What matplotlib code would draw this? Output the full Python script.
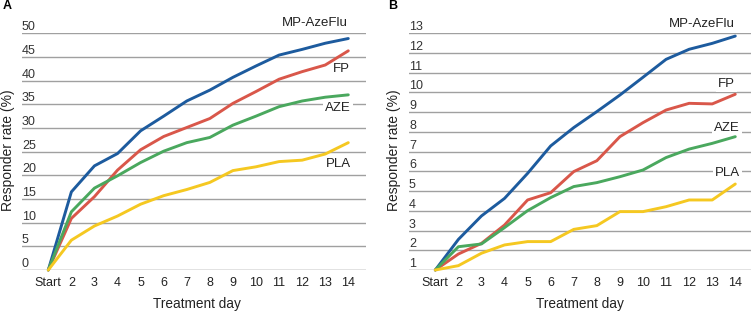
import matplotlib
matplotlib.use("Agg")
import matplotlib.pyplot as plt
from matplotlib.transforms import blended_transform_factory

days = list(range(1, 15))
day_labels = ["Start"] + [str(d) for d in range(2, 15)]

# Panel A
a_ticks = [0, 5, 10, 15, 20, 25, 30, 35, 40, 45, 50]
a_mp = [0, 16.5, 22.0, 24.6, 29.4, 32.5, 35.7, 38.0, 40.7, 43.1, 45.4, 46.6, 47.9, 48.9]
a_fp = [0, 10.9, 15.5, 21.1, 25.4, 28.2, 30.1, 32.0, 35.2, 37.7, 40.3, 41.9, 43.3, 46.3]
a_aze = [0, 12.3, 17.3, 19.9, 22.7, 25.1, 26.9, 28.0, 30.6, 32.5, 34.5, 35.7, 36.5, 37.0]
a_pla = [0, 6.3, 9.3, 11.4, 13.9, 15.7, 17.0, 18.5, 21.0, 21.8, 22.9, 23.2, 24.5, 26.9]

# Panel B
b_ticks = list(range(1, 14))
b_mp = [1, 2.55, 3.74, 4.63, 5.90, 7.29, 8.22, 9.03, 9.87, 10.77, 11.68, 12.19, 12.49, 12.86]
b_fp = [1, 1.81, 2.35, 3.28, 4.55, 4.92, 5.99, 6.54, 7.76, 8.47, 9.11, 9.45, 9.42, 9.91]
b_aze = [1, 2.18, 2.32, 3.15, 4.01, 4.67, 5.23, 5.43, 5.73, 6.07, 6.70, 7.13, 7.42, 7.76]
b_pla = [1, 1.22, 1.85, 2.27, 2.44, 2.44, 3.06, 3.25, 3.96, 3.96, 4.21, 4.55, 4.55, 5.36]

names = ["MP-AzeFlu", "FP", "AZE", "PLA"]
colors = ["#1d5b9e", "#d9574a", "#4aa85e", "#f5c821"]

plt.rcParams['font.family'] = ['Liberation Sans', 'DejaVu Sans']

W, H = 754, 313
fig = plt.figure(figsize=(W / 100, H / 100), dpi=100)


def make_panel(px_left, px_right, x_at1, x_at14, ymin, ymax, ticks, series, label_pos, letter, letter_xy, ylabel_x, xlabel_x):
    bottom_px, top_px = 270, 33.3
    ax = fig.add_axes([px_left / W, 1 - bottom_px / H, (px_right - px_left) / W, (bottom_px - top_px) / H])
    upp = (x_at14 - x_at1) / 13.0
    ax.set_xlim(1 - (x_at1 - px_left) / upp, 14 + (px_right - x_at14) / upp)
    ax.set_ylim(ymin, ymax)
    for s in ax.spines.values():
        s.set_visible(False)
    ax.set_yticks([])
    for i, t in enumerate(ticks):
        ax.axhline(t, color="#6e6e6e" if i == 0 else "#a0a0a0", lw=1.0, zorder=1)
    trans = blended_transform_factory(ax.transAxes, ax.transData)
    for t in ticks:
        ax.text(0.0, t, str(t), transform=trans, ha="left", va="bottom",
                fontsize=9, color="#333333")
    ax.set_xticks(days)
    ax.set_xticklabels(day_labels, fontsize=9, color="#222222")
    ax.tick_params(axis="x", length=0, pad=5)
    for vals, c in zip(series, colors):
        ax.plot(days, vals, color=c, lw=2.1, clip_on=False, zorder=3, solid_capstyle="round")
    for (nm, (lx, ly)) in zip(names, label_pos):
        xd = ax.transData.inverted().transform(fig.transFigure.transform((lx / W, 1 - ly / H)))
        ax.text(xd[0], xd[1], nm, ha="right", va="center", fontsize=9.5, color="#222222",
                zorder=2, bbox=dict(facecolor="white", edgecolor="none", pad=1.5))
    fig.text(letter_xy[0] / W, 1 - letter_xy[1] / H, letter, fontsize=9, fontweight="bold",
             ha="left", va="center")
    fig.text(ylabel_x / W, 1 - 150 / H, "Responder rate (%)", rotation=90, fontsize=10,
             ha="center", va="center", color="#222222")
    fig.text(xlabel_x / W, 1 - 304 / H, "Treatment day", fontsize=9.8, ha="center",
             va="center", color="#222222")
    return ax


make_panel(22, 366, 48.3, 348.3, 0, 50, a_ticks, [a_mp, a_fp, a_aze, a_pla],
           [(348, 23), (350, 69), (351, 108), (351, 164)], "A", (3, 6), 8, 197)
make_panel(409, 751, 435.3, 735.3, 1, 13, b_ticks, [b_mp, b_fp, b_aze, b_pla],
           [(735, 24), (735, 84), (740, 128), (740, 173)], "B", (388, 6), 394, 580)

fig.savefig("out.png", dpi=100)
